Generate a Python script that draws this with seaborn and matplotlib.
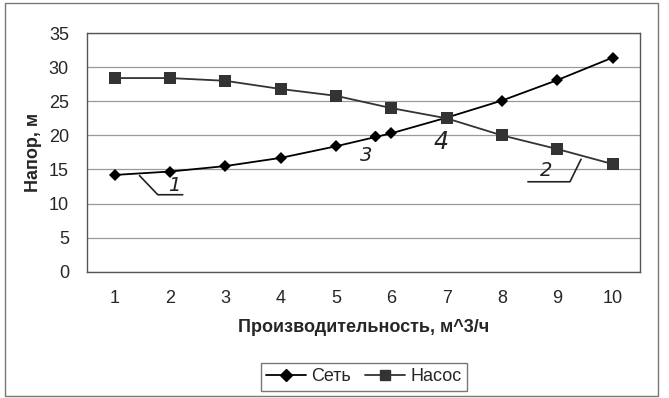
import numpy as np
import pandas as pd
import matplotlib
matplotlib.use("Agg")
import matplotlib.pyplot as plt
from matplotlib.patches import Rectangle
from matplotlib.lines import Line2D
from matplotlib.ticker import MultipleLocator, FixedLocator
import seaborn as sns

# Данные
q = [1, 2, 3, 4, 5, 6, 7, 8, 9, 10]
set_head = [14.2, 14.7, 15.5, 16.7, 18.4, 20.3, 22.6, 25.1, 28.1, 31.4]
pump_head = [28.4, 28.4, 28.0, 26.8, 25.8, 24.0, 22.5, 20.0, 18.0, 15.8]

# дополнительная точка, дорисованная от руки (3)
extra_q = [5.7]
extra_head = [19.85]

# рукописные пометки
marks = ["1", "2", "3", "4"]
marks_x = [2.08, 8.8, 5.54, 6.9]
marks_y = [12.6, 14.8, 17.0, 19.0]

df = pd.DataFrame({"q": q * 2,
                   "head": set_head + pump_head,
                   "series": ["Сеть"] * 10 + ["Насос"] * 10})

sns.set_style("white")
plt.rcParams["font.family"] = ["Liberation Sans", "DejaVu Sans"]

fig = plt.figure(figsize=(6.69, 3.98), dpi=100)
ax = fig.add_axes([0.130, 0.317, 0.827, 0.600])

sns.lineplot(data=df, x="q", y="head", hue="series", style="series",
             palette={"Сеть": "black", "Насос": "#333333"},
             markers={"Сеть": "D", "Насос": "s"},
             dashes={"Сеть": "", "Насос": ""},
             markersize=7, linewidth=1.3, markeredgewidth=0,
             ax=ax, legend=False)
ax.lines[0].set_markersize(6.5)
ax.lines[1].set_markersize(8.5)

ax.plot(extra_q, extra_head, marker="D", markersize=5, color="black",
        linestyle="none")

# оси
ax.set_xlim(0.5, 10.5)
ax.set_ylim(0, 35)
ax.yaxis.set_major_locator(MultipleLocator(5))
ax.xaxis.set_major_locator(FixedLocator(q))
ax.xaxis.set_minor_locator(FixedLocator(np.arange(0.5, 11, 1)))
ax.tick_params(axis="x", which="major", length=0, pad=13, labelsize=13)
ax.tick_params(axis="x", which="minor", length=4, color="#555555",
               direction="out")
ax.tick_params(axis="y", which="major", length=4, color="#555555",
               direction="out", labelsize=13, pad=9)
ax.grid(axis="y", color="#9a9a9a", linewidth=0.9)
for sp in ax.spines.values():
    sp.set_color("#555555")
    sp.set_linewidth(1.0)

ax.set_xlabel("Производительность, м^3/ч", fontsize=13, fontweight="bold",
              labelpad=9)
ax.set_ylabel("Напор, м", fontsize=13, fontweight="bold", labelpad=5)

# рукописные номера и выноски
for t, x, y in zip(marks, marks_x, marks_y):
    ax.text(x, y, t, fontsize=17 if t == "4" else 14, style="italic",
            color="#222222", ha="center", va="center",
            family=["DejaVu Sans"])
ax.plot([1.45, 1.78, 2.23], [14.1, 11.3, 11.3], color="#222222", lw=1.2)
ax.plot([8.47, 9.23, 9.43], [13.2, 13.2, 16.5], color="#222222", lw=1.2)

# легенда внизу
handles = [Line2D([], [], color="black", marker="D", markersize=6.5, lw=1.3),
           Line2D([], [], color="#333333", marker="s", markersize=7.5, lw=1.3)]
leg = fig.legend(handles, ["Сеть", "Насос"], loc="center",
                 bbox_to_anchor=(0.544, 0.053), ncol=2, fontsize=13,
                 frameon=True, fancybox=False, handlelength=2.2,
                 columnspacing=0.8, handletextpad=0.3, borderpad=0.3)
leg.get_frame().set_edgecolor("#555555")
leg.get_frame().set_linewidth(1.0)

# рамка области диаграммы
fig.patches.append(Rectangle((0.008, 0.006), 0.975, 0.986,
                             transform=fig.transFigure, fill=False,
                             edgecolor="#777777", linewidth=1.0))

fig.savefig("out.png", dpi=100)
